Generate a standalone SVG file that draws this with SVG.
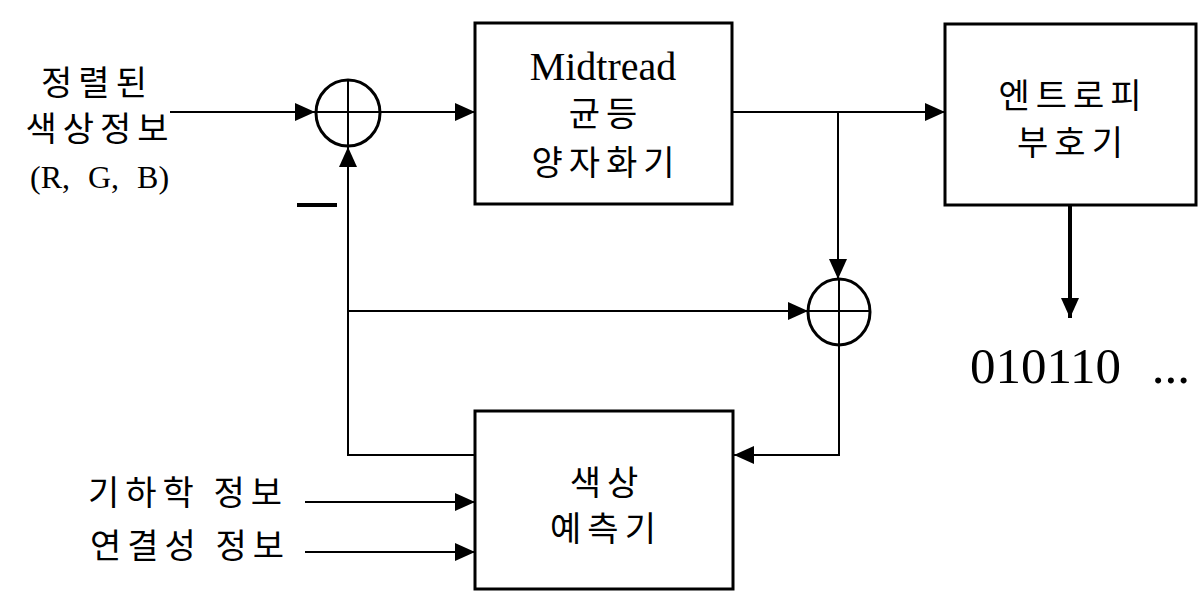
<svg xmlns="http://www.w3.org/2000/svg" width="1199" height="591" viewBox="0 0 1199 591">
<style>
.box{fill:#fff;stroke:#000;stroke-width:3}
.sum{fill:none;stroke:#000;stroke-width:3}
.cross{stroke:#000;stroke-width:2}
.ln{fill:none;stroke:#000;stroke-width:2}
.thick{fill:none;stroke:#000;stroke-width:4}
.ko{font-family:"Noto Sans CJK KR","Noto Sans",sans-serif;font-size:34px;letter-spacing:6px;fill:#000}
.serif{font-family:"Liberation Serif","DejaVu Serif",serif;fill:#000}
</style>
<defs>
<marker id="ah" markerUnits="userSpaceOnUse" markerWidth="20" markerHeight="18" refX="20" refY="9" orient="auto">
<path d="M0,0 L20,9 L0,18 Z" fill="#000"/>
</marker>
</defs>
<rect width="1199" height="591" fill="#fff"/>

<g id="input-label">
<text class="ko" x="97" y="95" text-anchor="middle">정렬된</text>
<text class="ko" x="100" y="141" text-anchor="middle">색상정보</text>
<text class="serif" x="30" y="188" font-size="32" word-spacing="10">(R, G, B)</text>
</g>

<g id="sum1">
<ellipse class="sum" cx="348" cy="113" rx="32" ry="33"/>
<line class="cross" x1="316" y1="112" x2="380" y2="112"/>
<line class="cross" x1="348" y1="80" x2="348" y2="146"/>
</g>
<g id="minus-sign">
<rect x="297" y="203" width="40" height="4" fill="#000"/>
</g>

<g id="quantizer">
<rect class="box" x="475" y="23" width="257" height="181"/>
<text class="serif" x="603" y="80" font-size="40" text-anchor="middle">Midtread</text>
<text class="ko" x="606" y="126" text-anchor="middle">균등</text>
<text class="ko" x="606" y="175" text-anchor="middle">양자화기</text>
</g>

<g id="entropy-coder">
<rect class="box" x="945" y="24" width="251" height="181"/>
<text class="ko" x="1073" y="108" text-anchor="middle">엔트로피</text>
<text class="ko" x="1073" y="155" text-anchor="middle">부호기</text>
</g>

<g id="bitstream">
<text class="serif" x="970" y="383" font-size="51" word-spacing="18">010110 ...</text>
</g>

<g id="sum2">
<ellipse class="sum" cx="839" cy="312" rx="31" ry="33"/>
<line class="cross" x1="808" y1="311" x2="870" y2="311"/>
<line class="cross" x1="839" y1="279" x2="839" y2="345"/>
</g>

<g id="predictor">
<rect class="box" x="475" y="411" width="258" height="178"/>
<text class="ko" x="607" y="495" text-anchor="middle">색상</text>
<text class="ko" x="606" y="541" text-anchor="middle">예측기</text>
</g>

<g id="side-labels">
<text class="ko" x="88" y="505" letter-spacing="10">기하학 정보</text>
<text class="ko" x="90" y="558" letter-spacing="10">연결성 정보</text>
</g>

<g id="connectors">
<line class="ln" x1="170" y1="112" x2="315" y2="112" marker-end="url(#ah)"/>
<line class="ln" x1="380" y1="112" x2="475" y2="112" marker-end="url(#ah)"/>
<line class="ln" x1="732" y1="112" x2="838" y2="112"/>
<line class="ln" x1="838" y1="112" x2="945" y2="112" stroke-width="3" marker-end="url(#ah)"/>
<line class="ln" x1="838" y1="112" x2="838" y2="279" marker-end="url(#ah)"/>
<polyline class="ln" points="475,455 348,455 348,147" marker-end="url(#ah)"/>
<line class="ln" x1="348" y1="311" x2="808" y2="311" marker-end="url(#ah)"/>
<polyline class="ln" points="839,345 839,455 734,455" marker-end="url(#ah)"/>
<line class="ln" x1="305" y1="502" x2="475" y2="502" marker-end="url(#ah)"/>
<line class="ln" x1="305" y1="552" x2="475" y2="552" marker-end="url(#ah)"/>
<line class="thick" x1="1070" y1="205" x2="1070" y2="318" marker-end="url(#ah)"/>
</g>
</svg>
